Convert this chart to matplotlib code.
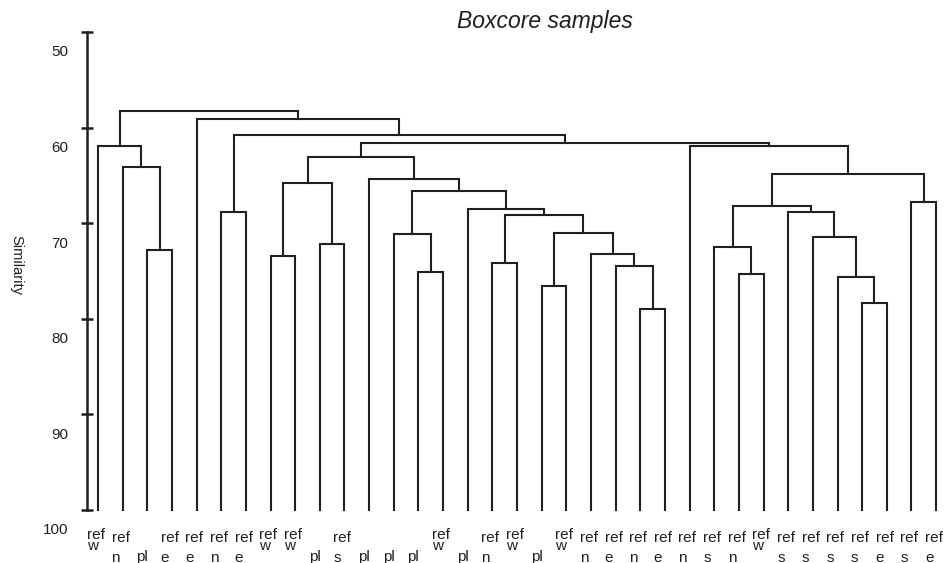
import matplotlib
matplotlib.use("Agg")
import matplotlib.pyplot as plt
from matplotlib import transforms
from matplotlib.font_manager import FontProperties

plt.rcParams['font.family'] = ['Liberation Sans', 'DejaVu Sans']

# Leaf labels, left to right (top line / bottom line)
leaf_top = ['ref', 'ref', '', 'ref', 'ref', 'ref', 'ref', 'ref', 'ref', '', 'ref', '', '', '',
            'ref', '', 'ref', 'ref', '', 'ref', 'ref', 'ref', 'ref', 'ref', 'ref', 'ref', 'ref',
            'ref', 'ref', 'ref', 'ref', 'ref', 'ref', 'ref', 'ref']
leaf_bottom = ['w', 'n', 'pl', 'e', 'e', 'n', 'e', 'w', 'w', 'pl', 's', 'pl', 'pl', 'pl',
               'w', 'pl', 'n', 'w', 'pl', 'w', 'n', 'e', 'n', 'e', 'n', 's', 'n',
               'w', 's', 's', 's', 's', 'e', 's', 'e']

# Linkage: node 35+k joins merge_left[k] and merge_right[k] at merge_sim[k]
merge_left = [2, 1, 0, 5, 7, 9, 39, 13, 12, 22, 21, 20, 18, 47, 16, 49, 15, 43,
              11, 41, 26, 25, 31, 30, 29, 28, 56, 33, 61, 24, 54, 38, 4, 37]
merge_right = [3, 35, 36, 6, 8, 10, 40, 14, 42, 23, 44, 45, 19, 46, 17, 48, 50, 51,
               52, 53, 27, 55, 32, 57, 58, 59, 60, 34, 62, 63, 64, 65, 66, 67]
merge_sim = [72.8, 64.15, 61.9, 68.85, 73.4, 72.2, 65.8, 75.1, 71.1, 79.0, 74.5,
             73.2, 76.6, 71.0, 74.2, 69.1, 68.5, 66.6, 65.4, 63.1, 75.3, 72.5,
             78.35, 75.6, 71.4, 68.8, 68.2, 67.8, 64.85, 61.9, 61.6, 60.8, 59.1, 58.3]
y_ticks = [50, 60, 70, 80, 90, 100]

ink = '#231f20'
n_leaves = len(leaf_bottom)
DPI = 100

fig = plt.figure(figsize=(9.44, 5.63), dpi=DPI)
ax = fig.add_axes([87 / 944, 53 / 563, 857 / 944, 478 / 563])

# Dendrogram: node positions and heights
pos_x = list(range(n_leaves))
pos_y = [100.0] * n_leaves
for a, b, s in zip(merge_left, merge_right, merge_sim):
    xa, xb = pos_x[a], pos_x[b]
    ax.plot([xa, xa, xb, xb], [pos_y[a], s, s, pos_y[b]], color=ink, lw=1.5,
            solid_joinstyle='miter', clip_on=False)
    pos_x.append((xa + xb) / 2)
    pos_y.append(s)

ax.set_xlim(-0.446, 34.32)
ax.set_ylim(100, 50)

for side in ['top', 'right', 'bottom']:
    ax.spines[side].set_visible(False)
ax.spines['left'].set_linewidth(1.8)
ax.spines['left'].set_color(ink)
ax.set_xticks([])
ax.set_yticks(y_ticks)
ax.tick_params(axis='y', direction='inout', length=8.6, width=1.8, color=ink,
               labelsize=11, pad=9, labelcolor=ink)
# the printed numbers sit a little below their tick marks
shift = transforms.ScaledTranslation(0, -19 / DPI, fig.dpi_scale_trans)
for lbl in ax.get_yticklabels():
    lbl.set_transform(lbl.get_transform() + shift)

# Leaf labels below the tree, "ref" stacked over the site letter.
# Line metrics (pixels) so the two lines land where the reference has them.
renderer = fig.canvas.get_renderer()
_, lp_h, lp_d = renderer.get_text_width_height_descent('lp', FontProperties(size=11), ismath=False)
lp_asc = lp_h - lp_d
px = 72 / DPI
for i, (top, bot) in enumerate(zip(leaf_top, leaf_bottom)):
    if top:
        # baselines below the axis bottom: normal 32 / 51.5 px, 'w' sits higher
        b1, b2 = (29, 40) if bot == 'w' else (32, 51.5)
        spacing = (b2 - b1 - lp_d) / lp_asc
        ax.annotate(top + '\n' + bot, xy=(i, 100), xytext=(-8, -(b1 - lp_asc) * px),
                    textcoords='offset points', ha='left', va='top', linespacing=spacing,
                    fontsize=11, color=ink, annotation_clip=False)
    else:
        ax.annotate(bot, xy=(i, 100), xytext=(-8, -51.5 * px),
                    textcoords='offset points', ha='left', va='baseline',
                    fontsize=11, color=ink, annotation_clip=False)

fig.text(545 / 944, 1 - 28 / 563, 'Boxcore samples', ha='center', va='baseline',
         fontsize=16.5, style='italic', color=ink)
fig.text(16 / 944, 1 - 265 / 563, 'Similarity', rotation=270, ha='center', va='center',
         fontsize=10.5, color=ink)

fig.savefig('out.png', dpi=DPI)
